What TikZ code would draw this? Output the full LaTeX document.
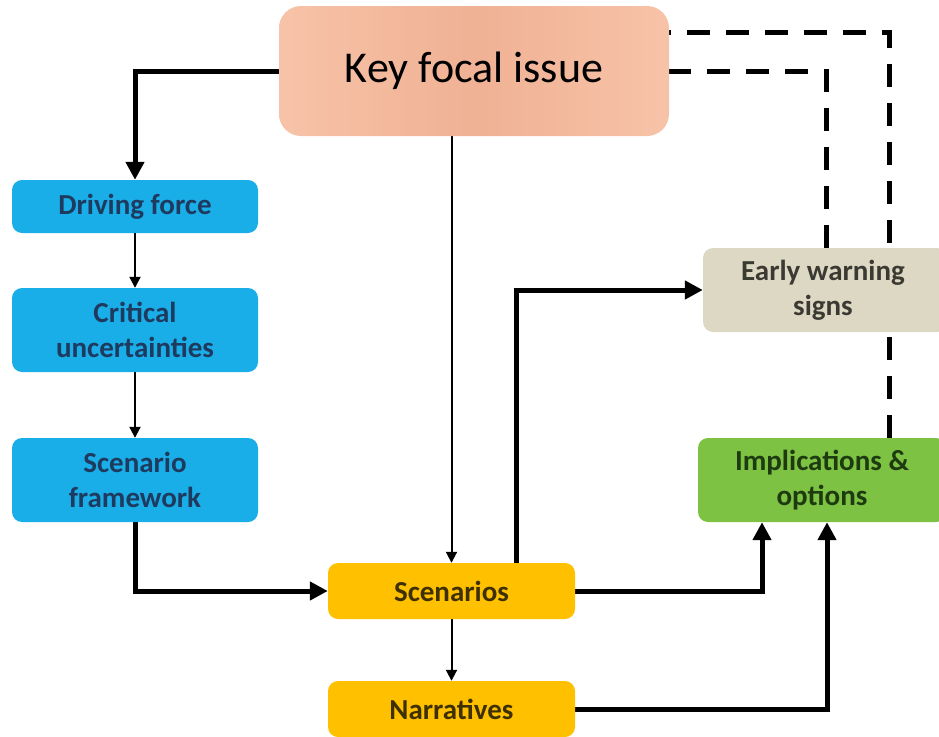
\documentclass[tikz,border=0pt]{standalone}
\usepackage{fontspec}
\setmainfont{Carlito}
\usetikzlibrary{arrows.meta,backgrounds}

\definecolor{peachL}{HTML}{F7C3A8}
\definecolor{peachM}{HTML}{F0B194}
\definecolor{skyblue}{HTML}{1AAEE8}
\definecolor{navytext}{HTML}{1F3A5F}
\definecolor{beige}{HTML}{DDD8C4}
\definecolor{beigetext}{HTML}{3A3A32}
\definecolor{leaf}{HTML}{7DC242}
\definecolor{leaftext}{HTML}{1D3A10}
\definecolor{amber}{HTML}{FFC000}
\definecolor{ambertext}{HTML}{3F3000}

\tikzset{
  box/.style={rectangle, rounded corners=10pt, inner sep=0pt, align=center,
    font=\fontsize{29}{35}\selectfont\bfseries},
  bluebox/.style={box, fill=skyblue, text=navytext},
  warnbox/.style={box, fill=beige, text=beigetext},
  greenbox/.style={box, fill=leaf, text=leaftext},
  ambbox/.style={box, fill=amber, text=ambertext},
  focalbox/.style={rectangle, rounded corners=22pt, inner sep=0pt,
    left color=peachL, right color=peachL, middle color=peachM,
    font=\fontsize{44}{50}\selectfont},
  thick flow/.style={line width=5pt, -{Triangle[length=18pt,width=18pt]}},
  thin flow/.style={line width=2pt, -{Triangle[length=11pt,width=11pt]}},
  link/.style={line width=5pt, dash pattern=on 23pt off 16pt},
}

\begin{document}
\begin{tikzpicture}[x=1pt,y=-1pt]
  \useasboundingbox (0,0) rectangle (939,736);
  \clip (0,0) rectangle (939,736);

  % process boxes
  \node[focalbox, minimum width=390pt, minimum height=130pt] (key) at (474,71) {Key focal issue};

  \node[bluebox, minimum width=246pt, minimum height=53pt] (drive) at (135,206.5) {Driving force};
  \node[bluebox, minimum width=246pt, minimum height=84pt] (crit) at (135,330) {Critical\\uncertainties};
  \node[bluebox, minimum width=246pt, minimum height=84pt] (frame) at (135,480) {Scenario\\framework};

  \node[warnbox, minimum width=244pt, minimum height=84pt] (early) at (825,290) {\hspace*{-4pt}Early warning\\\hspace*{-4pt}signs};
  \node[greenbox, minimum width=248pt, minimum height=84pt] (impl) at (822,480) {Implications \&\\options};

  \node[ambbox, minimum width=247pt, minimum height=56pt] (scen) at (451.5,591) {Scenarios};
  \node[ambbox, minimum width=247pt, minimum height=56pt] (narr) at (451.5,709) {Narratives};

  % connectors, kept behind the boxes
  \begin{pgfonlayer}{background}
    \draw[thick flow] (key.west) -| (drive.north);
    \draw[thin flow] (drive.south) -- (crit.north);
    \draw[thin flow] (crit.south) -- (frame.north);
    \draw[thick flow] (frame.south) |- (scen.west);
    \draw[thin flow] (key.south -| scen.north) -- (scen.north);
    \draw[thin flow] (scen.south) -- (narr.north);
    \draw[thick flow] ([xshift=65pt]scen.north) |- (early.west);
    \draw[thick flow] (scen.east) -| ([xshift=-60pt]impl.south);
    \draw[thick flow] (narr.east) -| ([xshift=5pt]impl.south);
    \draw[link] ([xshift=1pt]early.north) |- (key.east);
    \draw[link] ([xshift=67pt]impl.north) |- ([yshift=39pt]key.east);
  \end{pgfonlayer}
\end{tikzpicture}
\end{document}
